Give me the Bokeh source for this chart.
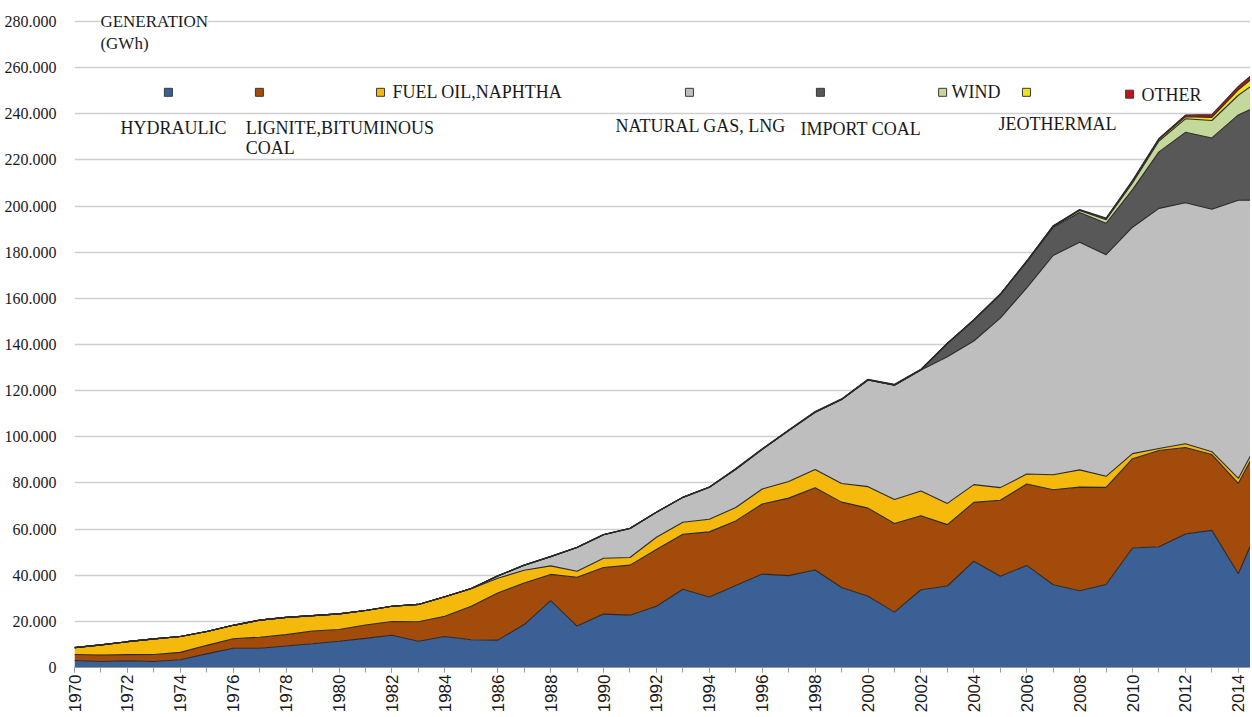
from math import pi
from bokeh.plotting import figure
from bokeh.models import ColumnDataSource, Range1d, FixedTicker, CustomJSTickFormatter, Label
from bokeh.embed import file_html
from bokeh.resources import INLINE

years = [1970, 1971, 1972, 1973, 1974, 1975, 1976, 1977, 1978, 1979,
         1980, 1981, 1982, 1983, 1984, 1985, 1986, 1987, 1988, 1989,
         1990, 1991, 1992, 1993, 1994, 1995, 1996, 1997, 1998, 1999,
         2000, 2001, 2002, 2003, 2004, 2005, 2006, 2007, 2008, 2009,
         2010, 2011, 2012, 2013, 2014, 2015]

hydraulic = [3033, 2610, 2895, 2603, 3357, 5904, 8375, 8337, 9342, 10289,
             11348, 12616, 13965, 11343, 13426, 12045, 11873, 18618, 28950, 17940,
             23148, 22683, 26568, 33951, 30586, 35541, 40475, 39816, 42229, 34678,
             30879, 24010, 33684, 35330, 46084, 39561, 44244, 35851, 33270, 35958,
             51796, 52339, 57865, 59420, 40645, 67146]

lignite_bituminous = [2600, 2800, 2700, 3000, 3200, 3700, 4100, 4800, 4900, 5500,
                      5100, 5800, 6000, 8500, 8800, 14500, 20400, 18000, 11400, 21200,
                      20200, 21700, 24600, 23800, 28200, 28000, 30400, 33600, 35700, 37000,
                      38200, 38400, 32100, 26600, 25500, 32900, 35300, 41200, 44900, 42100,
                      38700, 41700, 37500, 32900, 39200, 34100]

fuel_oil_naphtha = [3000, 4400, 5600, 6800, 6900, 6000, 5800, 7400, 7500, 6700,
                    6800, 6300, 6600, 7500, 8400, 7600, 6400, 5500, 3700, 2600,
                    4000, 3300, 5300, 5200, 5500, 5800, 6500, 7200, 7900, 8100,
                    9300, 10400, 10700, 9200, 7700, 5500, 4300, 6500, 7500, 4800,
                    2200, 900, 1600, 1200, 2100, 2200]

natural_gas_lng = [0, 0, 0, 0, 0, 0, 0, 0, 0, 0,
                   0, 0, 0, 0, 0, 58, 1000, 2200, 4000, 10300,
                   10192, 12589, 10814, 10788, 13822, 16579, 17174, 22086, 24838, 36346,
                   46217, 49549, 52497, 63536, 62242, 73445, 80691, 95025, 98685, 96095,
                   98144, 104048, 104499, 105116, 120576, 99219]

import_coal = [0, 0, 0, 0, 0, 0, 0, 0, 0, 0,
               0, 0, 0, 0, 0, 0, 0, 0, 0, 0,
               0, 0, 0, 0, 0, 0, 0, 0, 0, 0,
               0, 0, 0, 5700, 9000, 10200, 11300, 12200, 12900, 13600,
               16300, 24500, 30500, 30900, 37000, 42000]

wind = [0, 0, 0, 0, 0, 0, 0, 0, 0, 0,
        0, 0, 0, 0, 0, 0, 0, 0, 0, 0,
        0, 0, 0, 0, 0, 0, 0, 0, 6, 21,
        33, 62, 48, 61, 58, 59, 127, 355, 847, 1495,
        2916, 4724, 5861, 7558, 8520, 11652]

jeothermal = [0, 0, 0, 0, 0, 0, 0, 0, 0, 0,
              0, 0, 0, 0, 22, 6, 44, 58, 68, 62,
              80, 81, 70, 78, 79, 86, 84, 83, 85, 81,
              76, 90, 105, 89, 93, 94, 94, 156, 162, 436,
              668, 694, 899, 1364, 2364, 3425]

other = [0, 0, 0, 0, 0, 0, 0, 0, 0, 0,
         0, 0, 0, 0, 0, 0, 0, 0, 0, 0,
         0, 0, 0, 0, 0, 222, 221, 218, 220, 222,
         220, 230, 174, 116, 104, 122, 154, 214, 220, 340,
         458, 469, 721, 1171, 1450, 1900]

series_keys = ["hydraulic", "lignite_bituminous", "fuel_oil_naphtha", "natural_gas_lng",
               "import_coal", "wind", "jeothermal", "other"]
series_colors = ["#3B6096", "#A24B0B", "#F5B90C", "#BEBEBE",
                 "#585858", "#C4D89C", "#F2E41C", "#C0141B"]
y_ticks = [0, 20000, 40000, 60000, 80000, 100000, 120000, 140000,
           160000, 180000, 200000, 220000, 240000, 260000, 280000]

src = ColumnDataSource(dict(year=years, hydraulic=hydraulic,
                            lignite_bituminous=lignite_bituminous,
                            fuel_oil_naphtha=fuel_oil_naphtha,
                            natural_gas_lng=natural_gas_lng,
                            import_coal=import_coal, wind=wind,
                            jeothermal=jeothermal, other=other))

p = figure(width=1250, height=715, output_backend="svg", toolbar_location=None,
           x_range=Range1d(1970, 2014.46), y_range=Range1d(0, 285200),
           min_border_left=74, min_border_right=0, min_border_top=9, min_border_bottom=47)
p.outline_line_color = None
p.background_fill_color = "white"

p.varea_stack(stackers=series_keys, x="year", color=series_colors, source=src)
p.vline_stack(stackers=series_keys, x="year", color="#2a2a2a", line_width=1.1, source=src)

p.xgrid.grid_line_color = None
p.ygrid.grid_line_color = "#cfcfcf"
p.ygrid.grid_line_width = 1.3
p.ygrid.level = "underlay"

p.yaxis.ticker = FixedTicker(ticks=y_ticks)
p.yaxis.formatter = CustomJSTickFormatter(
    code="return tick == 0 ? '0' : tick.toFixed(0).replace(/\\B(?=(\\d{3})+(?!\\d))/g, '.');")
p.yaxis.axis_line_color = None
p.yaxis.major_tick_line_color = None
p.yaxis.minor_tick_line_color = None
p.yaxis.major_label_standoff = 12
p.yaxis.major_label_text_font = "Liberation Serif"
p.yaxis.major_label_text_font_size = "16px"
p.yaxis.major_label_text_color = "#1a1a1a"

p.xaxis.ticker = FixedTicker(ticks=[y for y in years if y % 2 == 0], minor_ticks=years)
p.xaxis.major_label_orientation = pi / 2
p.xaxis.axis_line_color = "#9a9a9a"
p.xaxis.major_tick_line_color = "#9a9a9a"
p.xaxis.minor_tick_line_color = "#9a9a9a"
p.xaxis.major_tick_in = 0
p.xaxis.major_tick_out = 5
p.xaxis.minor_tick_in = 0
p.xaxis.minor_tick_out = 5
p.xaxis.major_label_standoff = 2
p.xaxis.major_label_text_font = "Liberation Sans"
p.xaxis.major_label_text_font_size = "17px"
p.xaxis.major_label_text_color = "#1a1a1a"

serif = "Liberation Serif"
p.add_layout(Label(x=1970.98, y=280000, text="GENERATION", text_font=serif,
                   text_font_size="17px", text_color="#1a1a1a", text_baseline="middle",
                   background_fill_color="white"))
p.add_layout(Label(x=1970.98, y=270500, text="(GWh)", text_font=serif,
                   text_font_size="17px", text_color="#1a1a1a", text_baseline="middle"))

# legend keys (annotation layout)
key_x = [1973.55, 1976.99, 1981.57, 1993.25, 1998.2, 2002.82, 2005.99, 2009.89]
key_y = [249300, 249300, 249300, 249300, 249300, 249300, 249300, 248500]
p.scatter(x=key_x, y=key_y, marker="square", size=8, fill_color=series_colors,
          line_color="#3a3a3a", line_width=1)

legend_texts = [
    ("FUEL OIL,NAPHTHA", 1982.02, 249300),
    ("WIND", 2003.16, 249300),
    ("OTHER", 2010.34, 248300),
    ("HYDRAULIC", 1971.74, 233700),
    ("LIGNITE,BITUMINOUS", 1976.47, 233700),
    ("COAL", 1976.47, 225000),
    ("NATURAL GAS, LNG", 1990.45, 234600),
    ("IMPORT COAL", 1997.45, 233300),
    ("JEOTHERMAL", 2004.93, 235400),
]
for txt, lx, ly in legend_texts:
    p.add_layout(Label(x=lx, y=ly, text=txt, text_font=serif, text_font_size="18px",
                       text_color="#1a1a1a", text_baseline="middle"))

open("out.html", "w").write(file_html(p, INLINE))
